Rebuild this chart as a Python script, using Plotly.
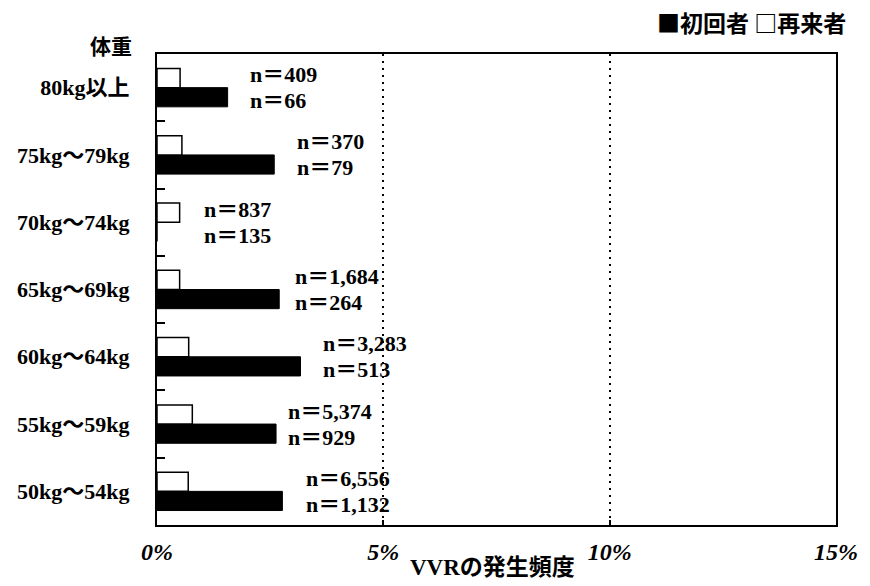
import plotly.graph_objects as go

# Weight classes, listed bottom-to-top as they appear on the axis
weight_classes = ["50kg～54kg", "55kg～59kg", "60kg～64kg", "65kg～69kg",
                  "70kg～74kg", "75kg～79kg", "80kg以上"]

# VVR incidence (%) by donor type
first_time = [2.77, 2.63, 3.17, 2.70, 0.0, 2.59, 1.56]      # 初回者
repeat = [0.69, 0.78, 0.70, 0.50, 0.50, 0.55, 0.51]          # 再来者

# Number of donors in each class
n_repeat = ["6,556", "5,374", "3,283", "1,684", "837", "370", "409"]
n_first = ["1,132", "929", "513", "264", "135", "79", "66"]

# Horizontal pixel gap between the longest bar and its n-label
label_gap_px = [22, 10, 20, 14, 22, 21, 20]

SERIF = "Liberation Serif, Noto Sans CJK JP, serif"
CJK = "Noto Sans CJK JP, sans-serif"

fig = go.Figure()
fig.add_trace(go.Bar(
    y=weight_classes, x=first_time, orientation="h", name="初回者",
    marker=dict(color="black", line=dict(color="black", width=1)),
))
fig.add_trace(go.Bar(
    y=weight_classes, x=repeat, orientation="h", name="再来者",
    marker=dict(color="white", line=dict(color="black", width=1.5)),
))

annotations = []
for cat, f, r, nr, nf, gap in zip(weight_classes, first_time, repeat,
                                   n_repeat, n_first, label_gap_px):
    # repeat-donor count on the upper line, first-time count below it
    for txt, dy in ((nr, 13), (nf, -13)):
        annotations.append(dict(
            x=max(f, r), y=cat, xref="x", yref="y",
            text=f"<b>n＝{txt}</b>", showarrow=False,
            xanchor="left", yanchor="middle", xshift=gap, yshift=dy,
            font=dict(family=SERIF, size=22, color="black"),
        ))

annotations += [
    dict(x=-0.039, y=1.019, xref="paper", yref="paper", text="<b>体重</b>",
         showarrow=False, xanchor="right", yanchor="middle", xshift=3,
         font=dict(family=CJK, size=21, color="black")),
    dict(x=1.004, y=1.066, xref="paper", yref="paper",
         text="<b>■初回者 □再来者</b>", showarrow=False,
         xanchor="right", yanchor="middle", xshift=9, yshift=1,
         font=dict(family=CJK, size=23, color="black")),
    dict(x=0.494, y=-0.091, xref="paper", yref="paper",
         text="<b>VVRの発生頻度</b>", showarrow=False,
         xanchor="center", yanchor="middle",
         font=dict(family=SERIF, size=23, color="black")),
]

fig.update_layout(
    width=870, height=586,
    margin=dict(l=157, r=25, t=54, b=61),
    paper_bgcolor="white", plot_bgcolor="white",
    barmode="group", bargap=0.43, bargroupgap=0,
    showlegend=False,
    annotations=annotations,
    xaxis=dict(
        range=[0, 15], tickvals=[0, 5, 10, 15],
        ticktext=["<b>0%</b>", "<b>5%</b>", "<b>10%</b>", "<b>15%</b>"],
        tickfont=dict(family=SERIF, size=24, color="black", style="italic"),
        ticks="inside", ticklen=5, tickwidth=2, tickcolor="black",
        showline=True, linecolor="black", linewidth=2, mirror=True,
        showgrid=True, gridcolor="black", gridwidth=2, griddash="2px,5px",
        zeroline=False, ticklabelstandoff=4, fixedrange=True,
    ),
    yaxis=dict(
        type="category", categoryorder="array", categoryarray=weight_classes,
        tickfont=dict(family=SERIF, size=22, color="black", weight="bold"),
        ticks="inside", tickson="boundaries", ticklen=8, tickwidth=2,
        tickcolor="black", showline=True, linecolor="black", linewidth=2,
        mirror=True, showgrid=False, ticklabelstandoff=21, fixedrange=True,
    ),
)

fig.write_html("out.html")
